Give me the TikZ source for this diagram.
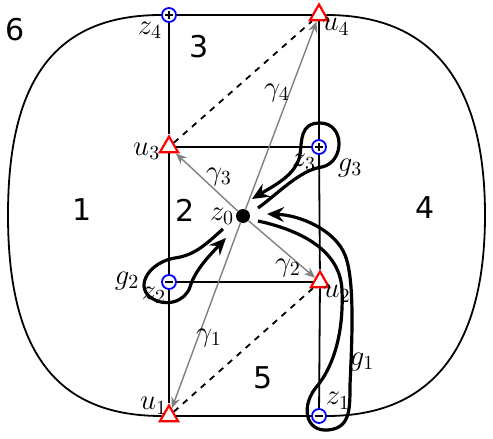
\documentclass[tikz,border=0pt]{standalone}
\usepackage{fontspec}
\newfontfamily\numfont{DejaVu Sans}
\usetikzlibrary{shapes.geometric,arrows.meta}

\begin{document}
\begin{tikzpicture}[x=0.5pt,y=-0.5pt,>={Stealth[length=8.5pt,width=7.5pt,inset=3pt]},
    upt/.style={regular polygon,regular polygon sides=3,draw=red,line width=1.1pt,inner sep=0pt,minimum size=10.5pt},
    zpt/.style={circle,draw=blue,line width=0.9pt,inner sep=0pt,minimum size=7pt,fill=white},
    zplus/.style={zpt,path picture={\draw[black,line width=0.7pt] ([xshift=-2.2pt]path picture bounding box.center) -- ([xshift=2.2pt]path picture bounding box.center) ([yshift=-2.2pt]path picture bounding box.center) -- ([yshift=2.2pt]path picture bounding box.center);}},
    zminus/.style={zpt,path picture={\draw[black,line width=0.7pt] ([xshift=-2.2pt]path picture bounding box.center) -- ([xshift=2.2pt]path picture bounding box.center);}},
    lbl/.style={font=\Large,inner sep=0.5pt},
    num/.style={font=\numfont\fontsize{15}{17}\selectfont},
    edge/.style={line width=0.9pt},
    ray/.style={gray,line width=0.7pt,-{Stealth[length=5.5pt,width=4.5pt]}},
    gpath/.style={line width=1.6pt,->}]

    \useasboundingbox (0,0) rectangle (493,439);

    \node[zplus,label={[lbl]below left:$z_4$}]  (z4) at (169,15) {};
    \node[upt,label={[lbl,label distance=-3pt]below right:$u_4$}] (u4) at (319,15) {};
    \node[upt,label={[lbl,yshift=-2pt]left:$u_3$}] (u3) at (169,147) {};
    \node[zplus,label={[lbl,xshift=2pt]below left:$z_3$}] (z3) at (319,147) {};
    \node[zminus,label={[lbl,xshift=2pt,yshift=1pt]below left:$z_2$}] (z2) at (169,282) {};
    \node[upt,label={[lbl,label distance=-3pt]below right:$u_2$}] (u2) at (320,282) {};
    \node[upt,label={[lbl,label distance=-3pt]above left:$u_1$}] (u1) at (169,416) {};
    \node[zminus,label={[lbl]above right:$z_1$}] (z1) at (319,416) {};
    \node[circle,fill=black,inner sep=0pt,minimum size=7pt,label={[lbl]left:$z_0$}] (z0) at (243,216) {};

    % outer curves
    \draw[edge] (z4) .. controls (55,15) and (8,80) .. (8,215) .. controls (8,350) and (55,416) .. (u1);
    \draw[edge] (u4) .. controls (430,15) and (485,80) .. (485,215) .. controls (485,350) and (430,416) .. (z1);

    % grid
    \draw[edge] (z4) -- (u4);
    \draw[edge] (u3) -- (z3);
    \draw[edge] (z2) -- (u2);
    \draw[edge] (u1) -- (z1);
    \draw[edge] (z4) -- (u3);
    \draw[edge] (u3) -- (z2);
    \draw[edge] (z2) -- (u1);
    \draw[edge] (u4) -- (z3);
    \draw[edge] (z3) -- (u2);
    \draw[edge] (u2) -- (z1);
    \draw[edge,dashed] (u3) -- (u4);
    \draw[edge,dashed] (u1) -- (u2);

    % rays
    \draw[ray] (z0) -- (u4);
    \draw[ray] (z0) -- (u3);
    \draw[ray] (z0) -- (u2);
    \draw[ray] (z0) -- (u1);
    \node[lbl] at (277,93)  {$\gamma_4$};
    \node[lbl] at (219,177) {$\gamma_3$};
    \node[lbl] at (288,268) {$\gamma_2$};
    \node[lbl] at (209,338) {$\gamma_1$};

    % loops
    \draw[gpath] (258,208) .. controls (280,192) and (300,170) .. (322,167) .. controls (345,162) and (345,123) .. (320,123) .. controls (300,123) and (302,140) .. (300,155) .. controls (296,175) and (275,185) .. (252,199);
    \draw[gpath] (223,229) .. controls (205,245) and (195,255) .. (175,258) .. controls (150,262) and (135,285) .. (150,297) .. controls (165,308) and (185,302) .. (190,287) .. controls (195,270) and (210,255) .. (226,238);
    \draw[gpath] (258,221) .. controls (290,228) and (340,245) .. (342,290) .. controls (344,340) and (330,370) .. (318,385) .. controls (300,405) and (305,432) .. (328,430) .. controls (350,428) and (350,410) .. (350,385) .. controls (352,340) and (355,280) .. (345,255) .. controls (335,230) and (300,215) .. (267,214);
    \node[lbl] at (350,168) {$g_3$};
    \node[lbl] at (127,281) {$g_2$};
    \node[lbl] at (362,362) {$g_1$};

    % faces
    \node[num] at (15,30)   {6};
    \node[num] at (199,47)  {3};
    \node[num] at (82,210)  {1};
    \node[num] at (185,210) {2};
    \node[num] at (425,208) {4};
    \node[num] at (263,378) {5};
\end{tikzpicture}
\end{document}
